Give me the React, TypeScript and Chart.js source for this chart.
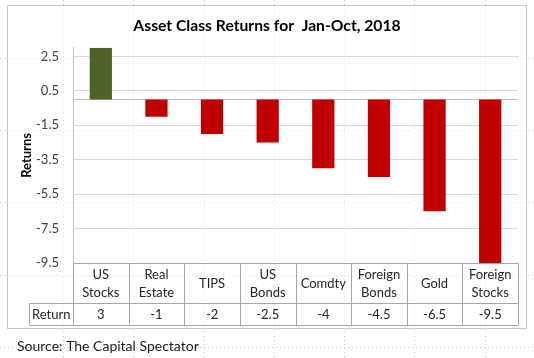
import React, { useEffect, useRef } from "react";
import { Chart, registerables } from "chart.js";

Chart.register(...registerables);

const categories: string[][] = [
  ["US", "Stocks"],
  ["Real", "Estate"],
  ["TIPS"],
  ["US", "Bonds"],
  ["Comdty"],
  ["Foreign", "Bonds"],
  ["Gold"],
  ["Foreign", "Stocks"],
];
const returns: number[] = [3, -1, -2, -2.5, -4, -4.5, -6.5, -9.5];
const returnLabels: string[] = ["3", "-1", "-2", "-2.5", "-4", "-4.5", "-6.5", "-9.5"];
const yTicks: number[] = [2.5, 0.5, -1.5, -3.5, -5.5, -7.5, -9.5];
const titleText = "Asset Class Returns for  Jan-Oct, 2018";
const yTitle = "Returns";
const rowHeader = "Return";
const sourceText = "Source: The Capital Spectator";

const FONT = "Lato, 'Open Sans', sans-serif";
const GREEN = "#4F6228";
const RED = "#C00000";

const decorPlugin = {
  id: "decor",
  beforeDraw(chart: any) {
    const ctx = chart.ctx;
    ctx.save();
    // spreadsheet dotted gridlines
    ctx.strokeStyle = "#c4c4c4";
    ctx.lineWidth = 1;
    ctx.setLineDash([1, 3]);
    const vx = [63, 133, 204, 274, 344, 414, 485];
    const hy = [58, 130, 202, 275, 347];
    vx.forEach((x) => {
      ctx.beginPath();
      ctx.moveTo(x + 0.5, 0);
      ctx.lineTo(x + 0.5, 358);
      ctx.stroke();
    });
    hy.forEach((y) => {
      ctx.beginPath();
      ctx.moveTo(0, y + 0.5);
      ctx.lineTo(534, y + 0.5);
      ctx.stroke();
    });
    ctx.setLineDash([]);
    ctx.fillStyle = "rgba(255,255,255,0.55)";
    ctx.fillRect(8, 6, 518, 322);
    ctx.strokeStyle = "#c8c8c8";
    ctx.strokeRect(7.5, 5.5, 519, 323);
    ctx.restore();
  },
  beforeDatasetsDraw(chart: any) {
    const ctx = chart.ctx;
    const y = chart.scales.y;
    const area = chart.chartArea;
    const y0 = Math.round(y.getPixelForValue(0)) + 0.5;
    ctx.save();
    ctx.strokeStyle = "#bfbfbf";
    ctx.lineWidth = 1;
    ctx.beginPath();
    ctx.moveTo(area.left, y0);
    ctx.lineTo(area.right, y0);
    ctx.stroke();
    ctx.restore();
  },
  afterDraw(chart: any) {
    const ctx = chart.ctx;
    const x = chart.scales.x;
    const area = chart.chartArea;
    const n = categories.length;
    const step = (area.right - area.left) / n;
    const top = Math.round(area.bottom) + 0.5;
    const mid = 303.5;
    const bot = 325.5;
    const headLeft = 29.5;
    ctx.save();
    ctx.strokeStyle = "#a6a6a6";
    ctx.lineWidth = 1;
    ctx.beginPath();
    ctx.moveTo(area.left, top);
    ctx.lineTo(area.right, top);
    ctx.moveTo(headLeft, mid);
    ctx.lineTo(area.right, mid);
    ctx.moveTo(headLeft, bot);
    ctx.lineTo(area.right, bot);
    ctx.moveTo(headLeft, mid);
    ctx.lineTo(headLeft, bot);
    for (let i = 0; i <= n; i++) {
      const cx = Math.round(x.getPixelForValue(i) - step / 2) + 0.5;
      ctx.moveTo(cx, top);
      ctx.lineTo(cx, bot);
    }
    ctx.stroke();

    ctx.fillStyle = "#262626";
    ctx.font = `13px ${FONT}`;
    ctx.textAlign = "center";
    ctx.textBaseline = "middle";
    categories.forEach((lines, i) => {
      const cx = x.getPixelForValue(i);
      if (lines.length === 2) {
        ctx.fillText(lines[0], cx, 275);
        ctx.fillText(lines[1], cx, 293);
      } else {
        ctx.fillText(lines[0], cx, 284);
      }
      ctx.fillText(returnLabels[i], cx, 315);
    });
    ctx.fillText(rowHeader, (headLeft + area.left) / 2, 315);

    ctx.textAlign = "left";
    ctx.font = `14px ${FONT}`;
    ctx.fillStyle = "#1a1a1a";
    ctx.fillText(sourceText, 17, 346);
    ctx.restore();
  },
};

export default function App() {
  const ref = useRef<HTMLCanvasElement | null>(null);
  useEffect(() => {
    if (!ref.current) return;
    const chart = new Chart(ref.current, {
      type: "bar",
      data: {
        labels: categories.map((c) => c.join(" ")),
        datasets: [
          {
            data: returns,
            backgroundColor: returns.map((v) => (v >= 0 ? GREEN : RED)),
            barPercentage: 0.4,
            categoryPercentage: 1,
          },
        ],
      },
      options: {
        animation: false,
        responsive: false,
        maintainAspectRatio: false,
        layout: { padding: { left: 16, right: 16, top: 0, bottom: 95 } },
        plugins: {
          legend: { display: false },
          tooltip: { enabled: false },
          title: {
            display: true,
            text: titleText,
            color: "#000",
            font: { family: FONT, size: 15.7, weight: "bold" },
            padding: { top: 17, bottom: 12 },
          },
        },
        scales: {
          x: { display: false },
          y: {
            min: -9.5,
            max: 3,
            afterFit: (s: any) => {
              s.width = 57;
            },
            afterBuildTicks: (s: any) => {
              s.ticks = yTicks.map((v) => ({ value: v }));
            },
            ticks: {
              padding: 14,
              color: "#404040",
              font: { family: FONT, size: 13 },
              callback: (v: any) => String(v),
            },
            grid: { color: "#d9d9d9", drawTicks: false },
            border: { display: true, color: "#bfbfbf" },
            title: {
              display: true,
              text: yTitle,
              color: "#000",
              font: { family: FONT, size: 13, weight: "bold" },
              padding: { top: 3, bottom: 0 },
            },
          },
        },
      },
      plugins: [decorPlugin],
    });
    return () => chart.destroy();
  }, []);
  return (
    <div style={{ position: "absolute", left: 0, top: 0, width: 534, height: 358 }}>
      <canvas ref={ref} width={534} height={358} style={{ width: 534, height: 358 }} />
    </div>
  );
}
